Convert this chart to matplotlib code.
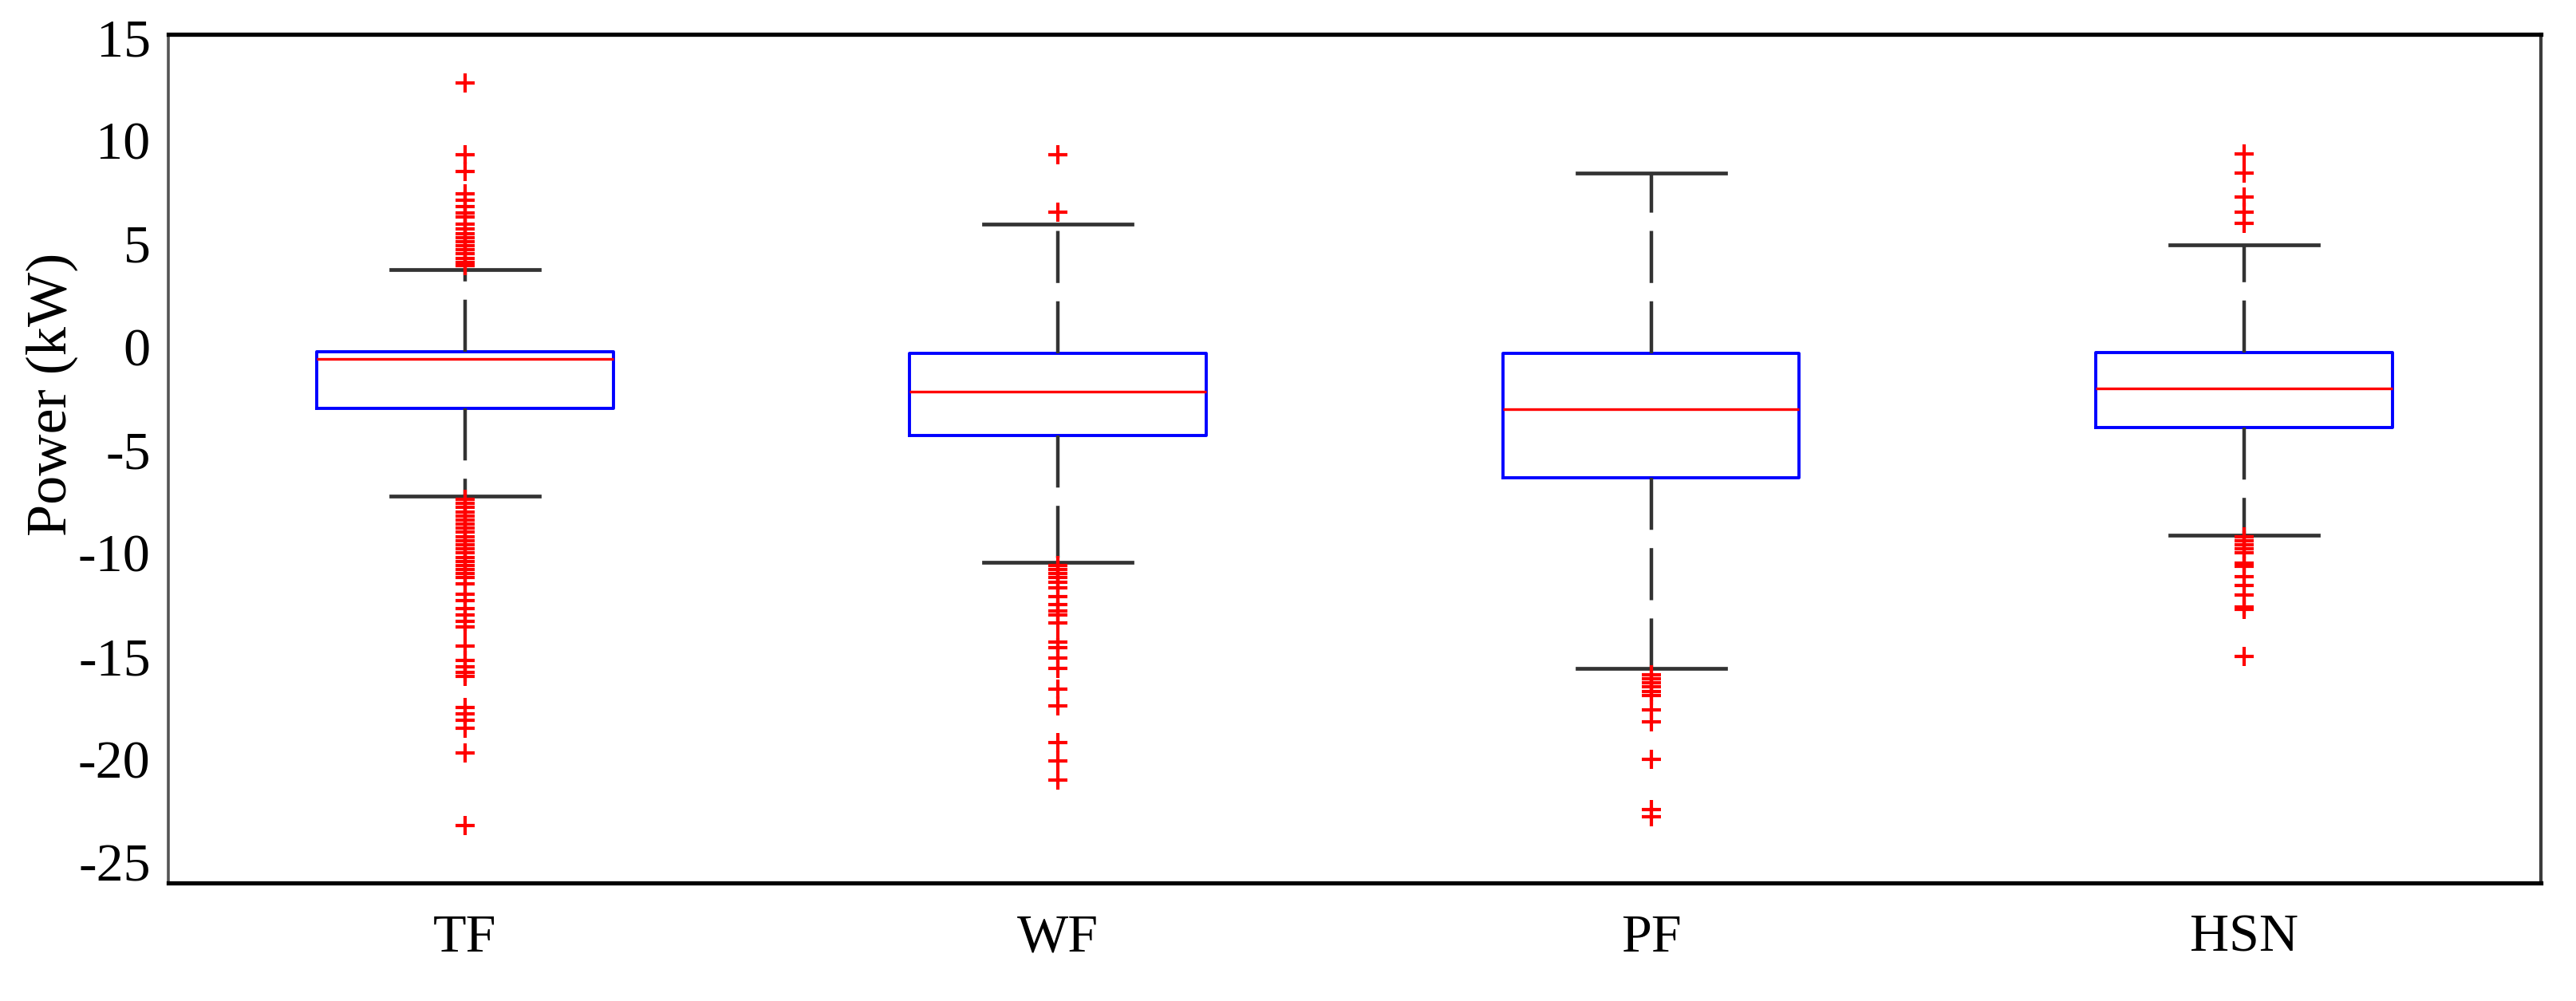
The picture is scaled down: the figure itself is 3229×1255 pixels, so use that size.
import matplotlib
matplotlib.use("Agg")
import matplotlib.pyplot as plt

# ---- data ----
categories = ["TF", "WF", "PF", "HSN"]
q1 = [-2.98, -4.29, -6.36, -3.90]
medians = [-0.58, -2.19, -3.01, -2.02]
q3 = [-0.26, -0.30, -0.30, -0.27]
whisker_low = [-7.26, -10.44, -15.61, -9.12]
whisker_high = [3.75, 5.96, 8.42, 4.95]

tf_fliers = [12.8, 9.3, 8.5, 7.4, 7.1, 6.8, 6.5, 6.3, 5.95, 5.7, 5.5, 5.3, 5.1,
             4.9, 4.7, 4.5, 4.3, 4.1, 3.95,
             -7.4, -7.6, -7.8, -8.0, -8.2, -8.4, -8.6, -8.8, -9.0, -9.2, -9.4,
             -9.6, -9.8, -10.0, -10.2, -10.4, -10.6, -10.8, -11.0, -11.2, -11.5,
             -12.0, -12.3, -12.7, -13.0, -13.3, -13.6, -14.5, -15.2, -15.5,
             -15.8, -16.0, -17.5, -17.8, -18.1, -18.5, -19.7, -23.2]
wf_fliers = [9.31, 6.53,
             -10.6, -10.8, -11.0, -11.2, -11.4, -11.7, -12.1, -12.5, -12.8,
             -13.0, -13.4, -14.3, -14.6, -15.1, -15.6, -16.6, -17.4, -19.2,
             -20.1, -21.0]
pf_fliers = [-15.9, -16.1, -16.3, -16.5, -16.7, -16.9, -17.6, -18.2, -20.0,
             -22.45, -22.8]
hsn_fliers = [9.34, 8.44, 7.28, 6.53, 5.97,
              -9.2, -9.4, -9.6, -9.8, -10.0, -10.5, -10.65, -11.15, -11.57,
              -12.02, -12.6, -12.75, -15.0]
fliers = [tf_fliers, wf_fliers, pf_fliers, hsn_fliers]

y_ticks = [-25, -20, -15, -10, -5, 0, 5, 10, 15]
y_label = "Power (kW)"

# ---- style ----
plt.rcParams["font.family"] = ["Liberation Serif", "DejaVu Serif"]
plt.rcParams["axes.unicode_minus"] = False
plt.rcParams["lines.scale_dashes"] = False

fig = plt.figure(figsize=(32.3, 12.55), dpi=100)
ax = fig.add_axes([0.0653, 0.1179, 0.9207, 0.8478])

stats = []
for i, name in enumerate(categories):
    stats.append(dict(label=name, q1=q1[i], med=medians[i], q3=q3[i],
                      whislo=whisker_low[i], whishi=whisker_high[i],
                      fliers=fliers[i]))

ax.bxp(stats, positions=range(1, len(categories) + 1), widths=0.5,
       showfliers=True, patch_artist=False, capwidths=0.25,
       boxprops=dict(color="blue", linewidth=2.8),
       medianprops=dict(color="red", linewidth=2.4),
       whiskerprops=dict(color="#333333", linewidth=3.2,
                         linestyle=(0, (47, 16.5))),
       capprops=dict(color="#333333", linewidth=3.4),
       flierprops=dict(marker="+", markeredgecolor="red", markersize=17,
                       markeredgewidth=3.0, linestyle="none"))

ax.set_xlim(0.5, 4.5)
ax.set_ylim(-26.0, 15.15)
ax.set_yticks(y_ticks)
ax.set_yticklabels([str(t) for t in y_ticks])
ax.tick_params(axis="both", length=0, labelsize=49)
ax.tick_params(axis="y", pad=16)
ax.tick_params(axis="x", pad=28)

ax.set_ylabel(y_label, fontsize=52)
ax.yaxis.set_label_coords(-0.038, 0.576)

for side, col, lw in [("top", "black", 3.8), ("bottom", "black", 3.8),
                      ("left", "#555555", 2.6), ("right", "#3c3c3c", 3.0)]:
    ax.spines[side].set_color(col)
    ax.spines[side].set_linewidth(lw)

fig.savefig("out.png", dpi=100, facecolor="white")
